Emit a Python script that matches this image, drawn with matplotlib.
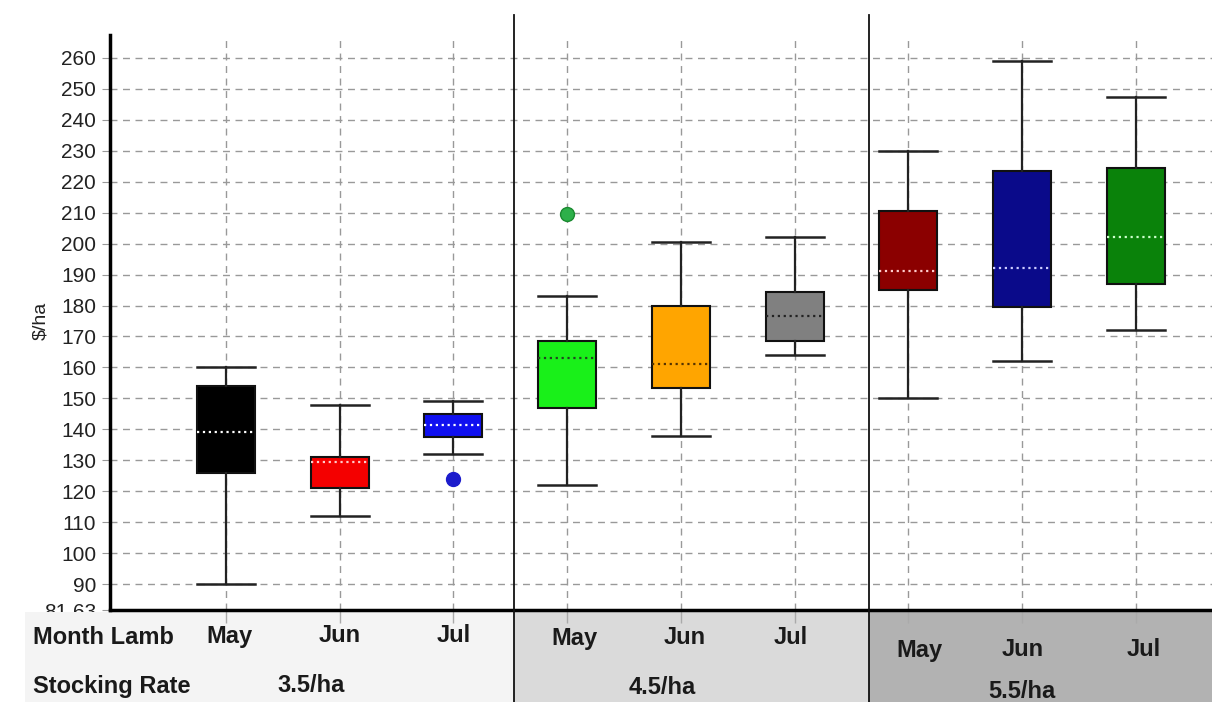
import matplotlib
matplotlib.use("Agg")
import matplotlib.pyplot as plt
from matplotlib.patches import Rectangle
from matplotlib.lines import Line2D
from matplotlib.transforms import blended_transform_factory, Bbox, TransformedBbox

plt.rcParams['font.family'] = ['Liberation Sans', 'DejaVu Sans']

# Data
months = ['May', 'Jun', 'Jul', 'May', 'Jun', 'Jul', 'May', 'Jun', 'Jul']
rates = ['3.5/ha', '4.5/ha', '5.5/ha']
whislo = [90, 112, 132, 122, 138, 164, 150, 162, 172]
q1 = [126, 121, 137.5, 147, 153.5, 168.5, 185, 179.5, 187]
med = [139, 129.5, 141.5, 163, 161, 176.5, 191, 192, 202]
q3 = [154, 131, 145, 168.5, 180, 184.5, 210.5, 223.5, 224.5]
whishi = [160, 148, 149, 183, 200.5, 202, 230, 259, 247.5]
fliers = [[], [], [124], [209.5], [], [], [], [], []]
y_ticks = [81.63] + list(range(90, 261, 10))

box_colors = ['#000000', '#f40000', '#1010f0', '#19f019', '#ffa500',
              '#808080', '#8b0000', '#0a0a8a', '#0a820a']
median_colors = ['#ffffff', '#ffcccc', '#ffffff', '#224422', '#553300',
                 '#222222', '#ffcccc', '#ccccff', '#ccffcc']
flier_colors = {2: ('#1c1ccc', '#1c1ccc'), 3: ('#2db04a', '#1a8a30')}

positions = list(range(1, len(months) + 1))

fig = plt.figure(figsize=(12.12, 7.02), dpi=100)
ax = fig.add_axes([110 / 1212, 92 / 702, 1102 / 1212, 575 / 702])

stats = []
for i in range(len(months)):
    stats.append(dict(whislo=whislo[i], q1=q1[i], med=med[i], q3=q3[i],
                      whishi=whishi[i], fliers=fliers[i]))

bp = ax.bxp(stats, positions=positions, widths=0.51, capwidths=0.51,
            patch_artist=True, showfliers=True,
            boxprops=dict(edgecolor='#111111', linewidth=1.5),
            whiskerprops=dict(color='#222222', linewidth=1.6),
            capprops=dict(color='#222222', linewidth=1.8),
            medianprops=dict(linestyle=':', linewidth=1.6),
            flierprops=dict(marker='o', markersize=10))

for i, box in enumerate(bp['boxes']):
    box.set_facecolor(box_colors[i])
    bp['medians'][i].set_color(median_colors[i])
    if i in flier_colors:
        fc, ec = flier_colors[i]
        bp['fliers'][i].set_markerfacecolor(fc)
        bp['fliers'][i].set_markeredgecolor(ec)

ax.set_xlim(-0.02, 9.67)
ax.set_ylim(81.63, 267.4)
ax.set_yticks(y_ticks)
ax.set_yticklabels(['81.63'] + [str(v) for v in y_ticks[1:]])
ax.set_xticks(positions)
ax.set_xticklabels([''] * len(positions))

ax.set_axisbelow(True)
ax.grid(True, color='#999999', linestyle=(0, (5, 4)), linewidth=1)
ax.tick_params(axis='y', length=6, color='#999999', labelsize=15,
               labelcolor='#222222', pad=4)
ax.tick_params(axis='x', length=9, color='#aaaaaa', width=1)

for s in ['top', 'right']:
    ax.spines[s].set_visible(False)
ax.spines['left'].set_linewidth(2.5)
ax.spines['bottom'].set_linewidth(2.5)

ax.set_ylabel('$/ha', fontsize=14, color='#222222')
ax.yaxis.set_label_coords((49 - 110) / 1102, (702 - 321 - 92) / 575)

# the bottom tick label is partly hidden by the table
lbl = ax.yaxis.get_major_ticks()[0].label1
lbl.set_clip_box(TransformedBbox(Bbox([[0, 90 / 702], [1, 1]]), fig.transFigure))
lbl.set_clip_on(True)

# table under the chart
tr = blended_transform_factory(ax.transData, fig.transFigure)
x_left = -0.02 - (110 - 25) / 113.6
dividers = [3.53, 6.65]
edges = [x_left] + dividers + [9.67]
bg = ['#f4f4f4', '#dadada', '#b2b2b2']
for k in range(3):
    fig.add_artist(Rectangle((edges[k], 0), edges[k + 1] - edges[k], 90 / 702,
                             transform=tr, facecolor=bg[k], edgecolor='none',
                             zorder=-1))
for d in dividers:
    fig.add_artist(Line2D([d, d], [0, 687 / 702], transform=tr,
                          color='#111111', linewidth=1.3, zorder=3))

fs = 17
fig.text(33 / 1212, 65 / 702, 'Month Lamb', fontsize=fs, fontweight='bold',
         color='#1a1a1a', va='center', ha='left')
fig.text(33 / 1212, 16 / 702, 'Stocking Rate', fontsize=fs, fontweight='bold',
         color='#1a1a1a', va='center', ha='left')

month_dx = [0.03, 0, 0, 0.06, 0.03, -0.03, 0.1, 0.01, 0.07]
month_y = [66, 64, 52]
for i, m in enumerate(months):
    fig.text(positions[i] + month_dx[i], month_y[i // 3] / 702, m, fontsize=fs,
             fontweight='bold', color='#1a1a1a', va='center', ha='center',
             transform=tr)

rate_x = [1.75, 4.84, 8.0]
rate_y = [16, 14, 11]
for k, r in enumerate(rates):
    fig.text(rate_x[k], rate_y[k] / 702, r, fontsize=fs, fontweight='bold',
             color='#1a1a1a', va='center', ha='center', transform=tr)

fig.savefig('out.png', dpi=100, facecolor='white')
